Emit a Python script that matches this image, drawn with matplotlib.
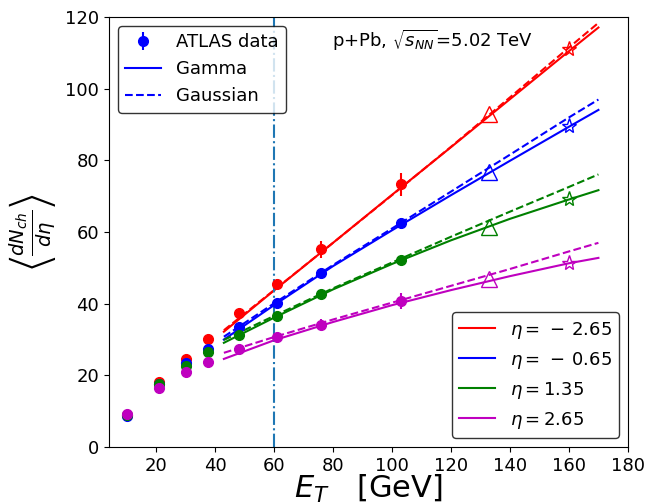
import matplotlib.pyplot as plt
import numpy as np

# measured points (E_T in GeV)
et_data = [10, 21, 30, 37.5, 48, 61, 76, 103]
dn_m265 = [9.0, 18.2, 24.6, 30.1, 37.3, 45.4, 55.2, 73.3]
dn_m065 = [8.6, 17.7, 23.4, 27.5, 33.6, 40.3, 48.5, 62.4]
dn_p135 = [9.0, 17.6, 22.7, 26.4, 31.4, 36.6, 42.7, 52.2]
dn_p265 = [9.2, 16.4, 21.0, 23.6, 27.3, 30.7, 34.2, 40.7]
err_m265 = [0.4, 0.5, 0.6, 0.7, 0.9, 1.6, 2.3, 3.3]
err_m065 = [0.3, 0.4, 0.5, 0.5, 0.6, 0.8, 1.0, 1.4]
err_p135 = [0.3, 0.4, 0.4, 0.5, 0.6, 0.7, 0.9, 1.25]
err_p265 = [0.3, 0.4, 0.5, 0.5, 0.7, 0.9, 1.5, 2.3]

# model curves
et_fit = [43, 60, 80, 100, 120, 140, 160, 170]
gamma_m265 = [32.2, 43.7, 57.0, 70.4, 83.7, 97.1, 110.5, 117.1]
gauss_m265 = [32.6, 43.8, 57.0, 70.3, 83.8, 97.6, 111.5, 118.4]
gamma_m065 = [30.0, 39.6, 50.5, 60.5, 70.3, 79.9, 89.4, 94.1]
gauss_m065 = [30.8, 40.1, 50.8, 61.0, 71.3, 81.6, 92.0, 97.0]
gamma_p135 = [29.1, 36.1, 44.0, 51.1, 57.7, 63.7, 69.1, 71.7]
gauss_p135 = [29.9, 36.6, 44.3, 51.5, 58.7, 65.7, 72.6, 76.1]
gamma_p265 = [24.6, 29.8, 34.9, 39.6, 43.8, 47.7, 51.3, 52.8]
gauss_p265 = [26.3, 30.7, 35.6, 40.3, 45.0, 49.7, 54.6, 57.0]

# predictions at higher E_T
et_tri = 133
tri_vals = [93.1, 76.8, 61.5, 46.8]
et_star = 160
star_vals = [111.1, 89.7, 69.1, 51.3]

colors = ['r', 'b', 'g', 'm']
labels = [r'$\eta=\,-\,2.65$', r'$\eta=\,-\,0.65$', r'$\eta=1.35$', r'$\eta=2.65$']
data = [dn_m265, dn_m065, dn_p135, dn_p265]
errs = [err_m265, err_m065, err_p135, err_p265]
gammas = [gamma_m265, gamma_m065, gamma_p135, gamma_p265]
gausses = [gauss_m265, gauss_m065, gauss_p135, gauss_p265]

fig = plt.figure(figsize=(6.48, 5.04), dpi=100)
ax = fig.add_axes([0.168, 0.113, 0.801, 0.853])

eta_lines = []
for i in range(4):
    c = colors[i]
    l, = ax.plot(et_fit, gammas[i], '-', color=c, lw=1.5, label=labels[i])
    ax.plot(et_fit, gausses[i], '--', color=c, lw=1.5)
    eta_lines.append(l)
    ax.plot(et_tri, tri_vals[i], '^', mfc='none', mec=c, ms=11)
    ax.plot(et_star, star_vals[i], '*', mfc='none', mec=c, ms=11)
for i in range(4):
    ax.errorbar(et_data, data[i], yerr=errs[i], fmt='o', color=colors[i], ms=7, elinewidth=1.5)

ax.axvline(60, color='tab:blue', ls='-.', lw=1.5)

h1 = ax.errorbar([], [], yerr=[], fmt='o', color='b', ms=7)
h2, = ax.plot([], [], 'b-')
h3, = ax.plot([], [], 'b--')
leg1 = ax.legend([h1, h2, h3], ['ATLAS data', 'Gamma', 'Gaussian'], loc='upper left',
                 fontsize=13, edgecolor='k')
ax.add_artist(leg1)
ax.legend(handles=eta_lines, loc='lower right', fontsize=13, edgecolor='k')

ax.text(0.43, 0.93, r'p+Pb, $\sqrt{s_{NN}}$=5.02 TeV', transform=ax.transAxes, fontsize=13)

ax.set_xlim(4, 180)
ax.set_ylim(0, 120)
ax.set_xticks(np.arange(20, 181, 20))
ax.set_yticks(np.arange(0, 121, 20))
ax.tick_params(labelsize=13)
ax.set_xlabel(r'$E_T$   [GeV]', fontsize=22, labelpad=-1)
ax.set_ylabel(r'$\left\langle\frac{dN_{ch}}{d\eta}\right\rangle$', fontsize=20)

plt.savefig('out.png')
